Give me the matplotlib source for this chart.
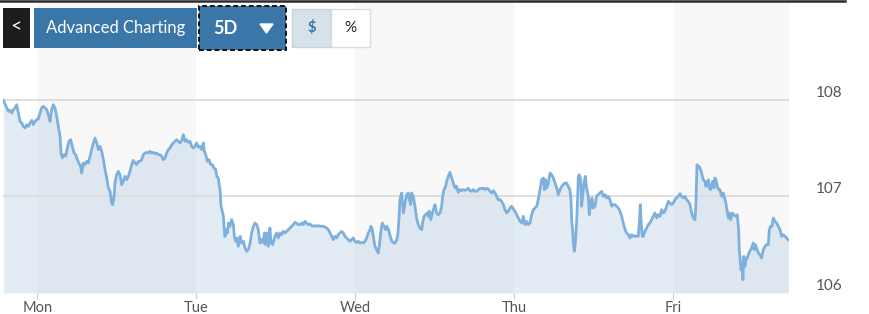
import matplotlib
matplotlib.use("Agg")
import matplotlib.pyplot as plt
from matplotlib.patches import Rectangle, Polygon

plt.rcParams['font.family'] = ['Lato', 'DejaVu Sans']

# 5-day intraday price, x in days from Monday tick (Mon=0 ... Fri=4)
days = [
    -0.214, -0.197, -0.182, -0.172, -0.161, -0.151, -0.140, -0.130, -0.119, -0.109,
    -0.098, -0.088, -0.077, -0.067, -0.056, -0.046, -0.035, -0.025, -0.014, -0.004,
    0.006, 0.017, 0.027, 0.038, 0.048, 0.059, 0.069, 0.080, 0.090, 0.101,
    0.111, 0.122, 0.132, 0.143, 0.149, 0.158, 0.168, 0.179, 0.189, 0.199,
    0.210, 0.220, 0.231, 0.241, 0.252, 0.262, 0.273, 0.279, 0.290, 0.300,
    0.311, 0.321, 0.332, 0.342, 0.353, 0.363, 0.374, 0.384,
    # Tue session
    0.395, 0.405, 0.416, 0.426, 0.437, 0.447, 0.458, 0.468, 0.474, 0.483,
    0.489, 0.499, 0.510, 0.520, 0.531, 0.541, 0.552, 0.562, 0.573, 0.583,
    0.594, 0.604, 0.615, 0.625, 0.636, 0.646, 0.657, 0.667, 0.678, 0.688,
    0.699, 0.709, 0.720, 0.730, 0.741, 0.751, 0.762, 0.772, 0.783, 0.793,
    0.804, 0.814, 0.825, 0.835, 0.846, 0.856, 0.867, 0.877, 0.888, 0.898,
    0.909, 0.919, 0.929, 0.940, 0.950, 0.961, 0.971, 0.982, 0.992, 1.003,
    1.013,
    1.024, 1.034, 1.045, 1.051, 1.060, 1.070, 1.081, 1.091, 1.101, 1.112,
    1.123, 1.129, 1.139, 1.146, 1.150, 1.156, 1.162, 1.171, 1.175, 1.181,
    1.188, 1.196, 1.204, 1.213, 1.223, 1.234, 1.240, 1.248, 1.255, 1.265,
    1.276, 1.286, 1.297, 1.307, 1.318, 1.328, 1.339, 1.349, 1.360, 1.370,
    1.381, 1.391, 1.401, 1.412, 1.422, 1.429, 1.435, 1.443, 1.454, 1.464,
    1.471, 1.481, 1.496, 1.506, 1.517, 1.527, 1.538, 1.548, 1.559, 1.569,
    1.580, 1.590, 1.601, 1.611, 1.622, 1.631, 1.642,
    # Wed session
    1.653, 1.663, 1.674, 1.684, 1.695, 1.706, 1.716, 1.727, 1.737, 1.748,
    1.758, 1.769, 1.779, 1.790, 1.800, 1.811, 1.821, 1.832, 1.842, 1.852,
    1.863, 1.873, 1.884, 1.894, 1.905, 1.915, 1.926, 1.936, 1.947, 1.957,
    1.968, 1.978, 1.989, 1.999, 2.010, 2.020, 2.031, 2.041, 2.052, 2.062,
    2.073, 2.083, 2.094, 2.100, 2.108, 2.115, 2.125, 2.136, 2.146, 2.152,
    2.161, 2.171, 2.182, 2.193, 2.199, 2.211, 2.221, 2.232, 2.242, 2.252,
    2.263, 2.270, 2.277, 2.282,
    2.293, 2.304, 2.314, 2.325, 2.335, 2.342, 2.350, 2.356, 2.366, 2.377,
    2.387, 2.398, 2.408, 2.419, 2.425, 2.434, 2.444, 2.455, 2.461, 2.467,
    2.476, 2.482, 2.492, 2.503, 2.513, 2.524, 2.534, 2.545, 2.551, 2.559,
    2.570, 2.576, 2.587, 2.597, 2.608, 2.618, 2.629, 2.639, 2.650, 2.660,
    2.671, 2.681, 2.692, 2.702, 2.713, 2.723, 2.734, 2.744, 2.755, 2.765,
    2.776, 2.786, 2.797, 2.807, 2.818, 2.828, 2.839, 2.849, 2.860, 2.870,
    2.881, 2.891, 2.901,
    # Thu session
    2.912, 2.922, 2.933, 2.943, 2.954, 2.964, 2.975, 2.985, 2.996, 3.006,
    3.017, 3.027, 3.038, 3.048, 3.059, 3.069, 3.080, 3.090, 3.101, 3.111,
    3.122, 3.132, 3.143, 3.153, 3.164, 3.174, 3.185, 3.191, 3.199, 3.206,
    3.216, 3.227, 3.237, 3.248, 3.258, 3.269, 3.279, 3.290, 3.300, 3.310,
    3.321, 3.331, 3.342, 3.352, 3.359, 3.363, 3.369, 3.373, 3.380, 3.386,
    3.394, 3.401, 3.405, 3.411, 3.420, 3.426, 3.432, 3.441, 3.449, 3.457,
    3.468, 3.474, 3.483, 3.491, 3.499, 3.510, 3.520, 3.531,
    3.541, 3.552, 3.562, 3.573, 3.583, 3.594, 3.604, 3.615, 3.625, 3.636,
    3.646, 3.657, 3.667, 3.678, 3.688, 3.699, 3.709, 3.720, 3.730, 3.741,
    3.751, 3.761, 3.772, 3.782, 3.789, 3.795, 3.801, 3.807, 3.814, 3.824,
    3.835, 3.845, 3.856, 3.866, 3.877, 3.887, 3.898, 3.908, 3.919, 3.929,
    3.940, 3.950, 3.961, 3.971, 3.982, 3.992,
    # Fri session
    4.003, 4.013, 4.024, 4.034, 4.045, 4.055, 4.066, 4.076, 4.087, 4.097,
    4.108, 4.118, 4.129, 4.139, 4.145, 4.152, 4.158, 4.164,
    4.171, 4.181, 4.191, 4.202, 4.208, 4.217, 4.223, 4.229, 4.238, 4.244,
    4.250, 4.259, 4.265, 4.271, 4.280, 4.288, 4.296, 4.307, 4.317, 4.328,
    4.334, 4.338, 4.349, 4.355, 4.364, 4.374, 4.384, 4.395, 4.405, 4.414,
    4.418, 4.422, 4.429, 4.435, 4.441, 4.447, 4.454, 4.460, 4.468, 4.479,
    4.489, 4.500, 4.506, 4.512, 4.519, 4.527, 4.538, 4.548, 4.559, 4.569,
    4.580, 4.590, 4.601, 4.607, 4.615, 4.624, 4.632, 4.642, 4.653, 4.663,
    4.674, 4.685, 4.695, 4.706, 4.716, 4.726,
]
prices = [
    107.993, 107.931, 107.879, 107.890, 107.862, 107.897, 107.914, 107.948, 107.862, 107.776,
    107.759, 107.724, 107.707, 107.741, 107.724, 107.759, 107.786, 107.741, 107.776, 107.793,
    107.800, 107.862, 107.914, 107.931, 107.914, 107.897, 107.845, 107.776, 107.897, 107.948,
    107.914, 107.828, 107.724, 107.621, 107.448, 107.397, 107.431, 107.414, 107.500, 107.569,
    107.586, 107.517, 107.448, 107.431, 107.379, 107.345, 107.310, 107.241, 107.345, 107.328,
    107.362, 107.345, 107.414, 107.483, 107.552, 107.603, 107.552, 107.483,
    107.517, 107.466, 107.379, 107.276, 107.190, 107.086, 107.052, 106.931, 106.914, 107.000,
    107.138, 107.224, 107.259, 107.224, 107.121, 107.155, 107.207, 107.172, 107.207, 107.259,
    107.328, 107.372, 107.345, 107.328, 107.362, 107.362, 107.379, 107.431, 107.448, 107.455,
    107.448, 107.466, 107.448, 107.455, 107.441, 107.448, 107.431, 107.431, 107.414, 107.379,
    107.397, 107.448, 107.483, 107.500, 107.534, 107.552, 107.569, 107.586, 107.569, 107.552,
    107.579, 107.638, 107.569, 107.586, 107.559, 107.569, 107.517, 107.500, 107.517, 107.552,
    107.510,
    107.517, 107.483, 107.552, 107.466, 107.431, 107.362, 107.379, 107.328, 107.328, 107.293,
    107.276, 107.207, 107.190, 107.103, 107.069, 106.897, 106.862, 106.793, 106.690, 106.586,
    106.655, 106.621, 106.724, 106.690, 106.759, 106.707, 106.586, 106.534, 106.569, 106.483,
    106.586, 106.517, 106.534, 106.466, 106.431, 106.448, 106.517, 106.621, 106.690, 106.724,
    106.707, 106.655, 106.517, 106.552, 106.517, 106.621, 106.500, 106.621, 106.483, 106.672,
    106.517, 106.500, 106.586, 106.621, 106.569, 106.621, 106.603, 106.638, 106.621, 106.638,
    106.655, 106.672, 106.690, 106.707, 106.731, 106.724, 106.707,
    106.707, 106.724, 106.707, 106.741, 106.724, 106.707, 106.714, 106.697, 106.690, 106.697,
    106.690, 106.697, 106.690, 106.690, 106.690, 106.683, 106.672, 106.655, 106.621, 106.586,
    106.552, 106.586, 106.569, 106.603, 106.621, 106.638, 106.621, 106.586, 106.569, 106.552,
    106.534, 106.552, 106.569, 106.534, 106.524, 106.534, 106.517, 106.524, 106.517, 106.534,
    106.569, 106.621, 106.655, 106.690, 106.655, 106.586, 106.483, 106.448, 106.414, 106.483,
    106.621, 106.724, 106.690, 106.655, 106.690, 106.655, 106.586, 106.534, 106.517, 106.517,
    106.552, 106.621, 106.793, 106.966,
    107.034, 106.828, 106.931, 107.017, 107.034, 106.966, 106.914, 107.034, 107.000, 106.897,
    106.776, 106.707, 106.672, 106.655, 106.724, 106.793, 106.810, 106.828, 106.793, 106.845,
    106.759, 106.793, 106.862, 106.914, 106.828, 106.810, 106.828, 106.897, 107.000, 107.069,
    107.103, 107.155, 107.207, 107.248, 107.190, 107.138, 107.086, 107.103, 107.041, 107.069,
    107.059, 107.069, 107.062, 107.069, 107.083, 107.059, 107.052, 107.069, 107.052, 107.052,
    107.069, 107.083, 107.079, 107.086, 107.069, 107.083, 107.076, 107.052, 107.034, 107.059,
    107.034, 107.000, 106.966,
    106.966, 106.948, 106.914, 106.862, 106.828, 106.845, 106.879, 106.897, 106.869, 106.845,
    106.810, 106.776, 106.741, 106.724, 106.793, 106.707, 106.741, 106.707, 106.724, 106.810,
    106.862, 106.879, 106.897, 106.966, 107.069, 107.172, 107.190, 107.069, 107.172, 107.086,
    107.138, 107.241, 107.224, 107.190, 107.138, 107.086, 107.017, 107.069, 107.103, 107.121,
    107.138, 107.138, 107.103, 107.069, 106.966, 106.759, 106.655, 106.534, 106.431, 106.517,
    106.724, 107.000, 107.207, 107.224, 107.172, 106.897, 107.000, 107.138, 107.207, 107.086,
    107.000, 106.810, 106.914, 106.983, 106.879, 106.897, 107.000, 107.017,
    107.034, 107.052, 107.000, 107.017, 106.983, 107.000, 106.966, 106.897, 106.914, 106.914,
    106.897, 106.879, 106.845, 106.793, 106.724, 106.655, 106.621, 106.603, 106.569, 106.603,
    106.586, 106.593, 106.586, 106.586, 106.724, 106.914, 106.724, 106.586, 106.586, 106.638,
    106.672, 106.707, 106.724, 106.759, 106.793, 106.828, 106.776, 106.810, 106.793, 106.862,
    106.828, 106.845, 106.897, 106.948, 106.931, 106.914,
    106.931, 106.966, 106.983, 107.000, 107.028, 107.000, 106.983, 107.000, 106.966, 106.948,
    106.914, 106.828, 106.776, 106.759, 106.914, 107.328, 107.293, 107.310,
    107.293, 107.241, 107.172, 107.155, 107.103, 107.138, 107.172, 107.086, 107.069, 107.121,
    107.155, 107.086, 107.190, 107.172, 107.103, 107.069, 107.069, 107.000, 107.034, 106.966,
    106.931, 106.879, 106.776, 106.828, 106.759, 106.828, 106.810, 106.793, 106.810, 106.655,
    106.448, 106.379, 106.241, 106.310, 106.138, 106.379, 106.276, 106.345, 106.362, 106.414,
    106.448, 106.483, 106.517, 106.448, 106.500, 106.466, 106.414, 106.397, 106.362, 106.448,
    106.483, 106.500, 106.500, 106.655, 106.690, 106.690, 106.776, 106.741, 106.724, 106.690,
    106.655, 106.586, 106.603, 106.586, 106.569, 106.552,
]

day_ticks = [0, 1, 2, 3, 4]
day_labels = ['Mon', 'Tue', 'Wed', 'Thu', 'Fri']
price_ticks = [106, 107, 108]

W, H = 870, 314
fig = plt.figure(figsize=(W / 100, H / 100), dpi=100)
ax = fig.add_axes([3 / W, 21 / H, 786 / W, 290 / H])

xmin, xmax = -0.216, 4.731
for start in [0, 2, 4]:
    ax.axvspan(start, min(start + 1, xmax), color='#f8f8f8', lw=0, zorder=0)

ax.fill_between(days, prices, 106, color='#a9c6de', alpha=0.32, lw=0, zorder=1)
for p in price_ticks[1:]:
    ax.axhline(p, color='#dcdcdc', lw=1.3, zorder=2)
ax.plot(days, prices, color='#7eb0dd', lw=2.0, zorder=3)

ax.set_xlim(xmin, xmax)
ax.set_ylim(106, 109)
for s in ax.spines.values():
    s.set_visible(False)

ax.set_xticks(day_ticks)
ax.set_xticklabels(day_labels)
ax.tick_params(axis='x', length=4, color='#cccccc', labelsize=10.5, labelcolor='#555555', pad=2)

ax.yaxis.tick_right()
ax.set_yticks(price_ticks)
ax.set_yticklabels([str(p) for p in price_ticks])
ax.tick_params(axis='y', length=0, labelsize=11, labelcolor='#555555', pad=19)
for lbl in ax.get_yticklabels():
    lbl.set_verticalalignment('bottom')


# header controls, drawn in figure pixels (top-left origin)
def box(x0, y0, x1, y1, **kw):
    fig.add_artist(Rectangle((x0 / W, 1 - y1 / H), (x1 - x0) / W, (y1 - y0) / H,
                             transform=fig.transFigure, **kw))


def label(x, y, s, **kw):
    fig.text(x / W, 1 - y / H, s, ha='center', va='center', **kw)


fig.add_artist(plt.Line2D([0, 845 / W], [1 - 1 / H, 1 - 1 / H], color='#2b2b2b', lw=1.8,
                          transform=fig.transFigure))

blue = '#3a77a8'
box(3, 8, 30, 48, color='#1c1c1c', lw=0)
label(16.5, 27, '<', color='white', fontsize=14)
box(34, 8, 197, 48, color=blue, lw=0)
label(115.5, 28, 'Advanced Charting', color='white', fontsize=12)
box(199, 6, 286, 50, facecolor=blue, edgecolor='#111111', lw=1.4, linestyle=(0, (2.5, 1.5)))
label(225, 28, '5D', color='white', fontsize=13, fontweight='bold')
fig.add_artist(Polygon([(260 / W, 1 - 24 / H), (273 / W, 1 - 24 / H), (266.5 / W, 1 - 33 / H)],
                       closed=True, color='white', transform=fig.transFigure))
box(292, 9, 331, 47, facecolor='#d5e1eb', edgecolor='#c8d3dc', lw=1)
label(311.5, 28, '$', color=blue, fontsize=10.5, fontweight='bold')
box(331, 9, 370, 47, facecolor='white', edgecolor='#d8dde2', lw=1)
label(350.5, 28, '%', color='#222222', fontsize=11)

fig.savefig('out.png', dpi=100)
